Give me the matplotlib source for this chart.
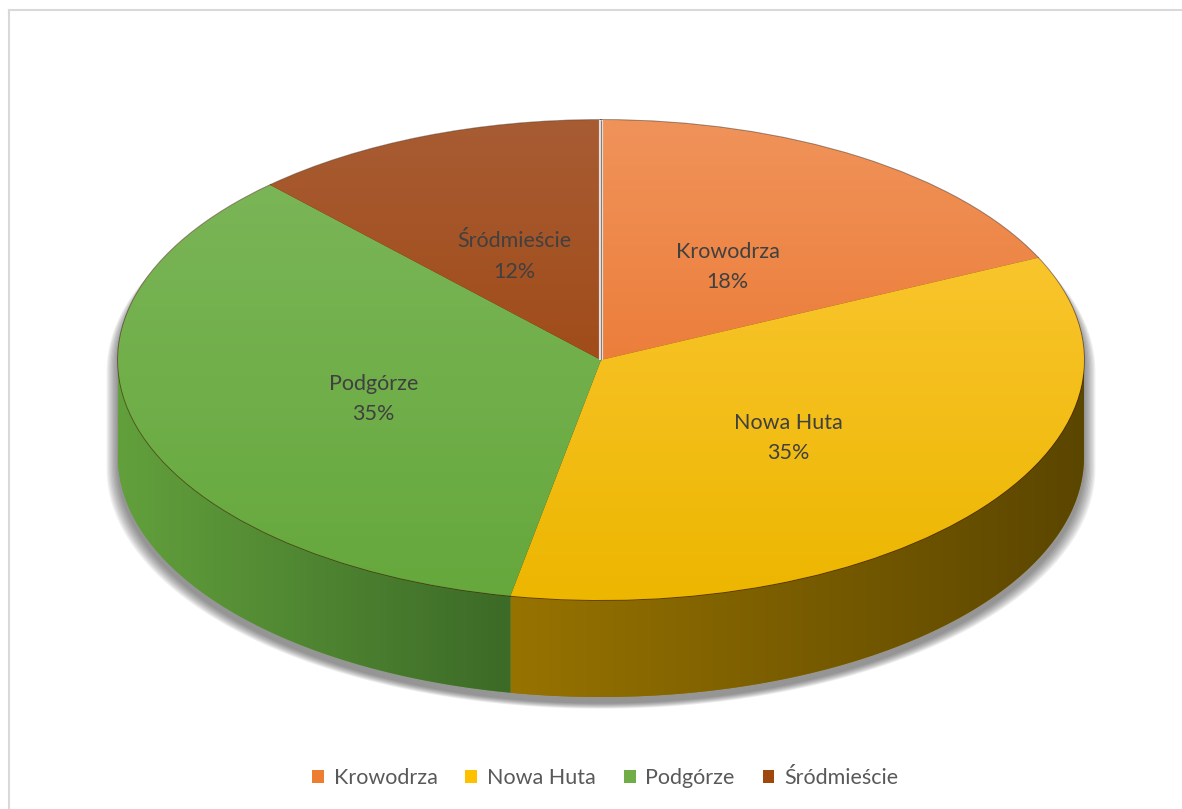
import numpy as np
import matplotlib
matplotlib.use('Agg')
import matplotlib.pyplot as plt
from matplotlib.patches import Polygon, Patch
from matplotlib.colors import to_rgb

# data
districts = ['Krowodrza', 'Nowa Huta', 'Podgórze', 'Śródmieście']
shares = [18, 35, 35, 12]
top_light = ['#F0935A', '#FDCB3E', '#7DB75B', '#A85C33']
top_dark = ['#E8691C', '#EDB600', '#66A83C', '#9A3C00']
side_left = ['#B5561A', '#977300', '#62A03C', '#7A3000']
side_right = ['#9C4510', '#5B4600', '#3C6A27', '#602500']
legend_colors = ['#ED7D31', '#FFC000', '#70AD47', '#9E480E']

plt.rcParams['font.family'] = ['Lato', 'DejaVu Sans']

W, H = 1182, 809
CX, CY, RX, RY, DEPTH = 601, 360, 483, 240, 97
d = DEPTH / RY

fig = plt.figure(figsize=(W / 100, H / 100), dpi=100)
ax = fig.add_axes([0, 0, 1, 1])

wedges, texts, autotexts = ax.pie(shares, startangle=90, counterclock=False,
                                  autopct='%d%%', pctdistance=0.49,
                                  wedgeprops=dict(linewidth=1.3, edgecolor=(0.25, 0.1, 0.0, 0.55)))

def grad_img(c1, c2, vertical=True, n=256):
    a = np.array(to_rgb(c1))
    b = np.array(to_rgb(c2))
    t = np.linspace(0, 1, n)[:, None]
    g = a * (1 - t) + b * t
    if vertical:
        return g[:, None, :]
    return g[None, :, :]

# soft shadow below the pie (only shows round the lower rim)
t = np.linspace(0, np.pi, 200)
t2 = np.linspace(np.pi, 2 * np.pi, 200)
sil = np.vstack([np.c_[np.cos(t), np.sin(t)], np.c_[np.cos(t2), np.sin(t2) - d]])
for i in range(9):
    e = 1 + i * 1.3
    pts = np.c_[sil[:, 0] * (RX + e) / RX, sil[:, 1] - (6 + e * 0.5) / RY]
    ax.add_patch(Polygon(pts, closed=True, facecolor='#3A3A3A', edgecolor='none',
                         alpha=0.08, zorder=0))

# sides (front half of the rim)
bounds = 90 - np.cumsum([0] + shares) * 3.6
for i in range(len(shares)):
    a0, a1 = bounds[i + 1], bounds[i]
    lo, hi = max(a0, -180), min(a1, 0)
    if hi <= lo:
        continue
    tt = np.radians(np.linspace(lo, hi, 120))
    topv = np.c_[np.cos(tt), np.sin(tt)]
    botv = np.c_[np.cos(tt), np.sin(tt) - d][::-1]
    poly = Polygon(np.vstack([topv, botv]), closed=True, facecolor=side_left[i],
                   edgecolor='none', zorder=1)
    ax.add_patch(poly)
    x0, x1 = np.cos(tt).min(), np.cos(tt).max()
    im = ax.imshow(grad_img(side_left[i], side_right[i], vertical=False),
                   extent=(x0, x1, -1 - d, 1), aspect='auto', zorder=1.5,
                   interpolation='bilinear')
    im.set_clip_path(poly)

# top faces with vertical gradient
for i, w in enumerate(wedges):
    w.set_facecolor(top_dark[i])
    w.set_zorder(2)
    im = ax.imshow(grad_img(top_light[i], top_dark[i]), extent=(-1, 1, -1, 1),
                   aspect='auto', zorder=2.5, interpolation='bilinear')
    im.set_clip_path(w)

# light seam at the 12 o'clock cut
ax.plot([0, 0], [0, 1], color='#E8E0DA', lw=3, zorder=3, solid_capstyle='butt')
ax.plot([0, 0], [0, 1], color='#7F7F7F', lw=0.8, zorder=3.1, solid_capstyle='butt')

for i, txt in enumerate(autotexts):
    x, y = txt.get_position()
    txt.set_position((x, y - 0.025))
    txt.set_text(f'{districts[i]}\n{shares[i]}%')
    txt.set_color('#404040')
    txt.set_fontsize(15.5)
    txt.set_ha('center')
    txt.set_va('center')
    txt.set_linespacing(1.65)
    txt.set_zorder(5)

ax.set_aspect('auto')
ax.set_xlim(-CX / RX, (W - CX) / RX)
ax.set_ylim((CY - H) / RY, CY / RY)
ax.axis('off')

# chart area border (only top and left visible)
fig.add_artist(plt.Line2D([8.5 / W, 8.5 / W], [0, 1 - 9.5 / H], color='#D9D9D9', lw=1.5))
fig.add_artist(plt.Line2D([8.5 / W, 1], [1 - 9.5 / H, 1 - 9.5 / H], color='#D9D9D9', lw=1.5))

handles = [Patch(facecolor=c, edgecolor='none') for c in legend_colors]
fig.legend(handles, districts, loc='center', bbox_to_anchor=(0.512, 1 - 778 / H), ncol=4,
           frameon=False, fontsize=15.5, labelcolor='#595959', handlelength=0.55,
           handleheight=0.55, handletextpad=0.45, columnspacing=1.3)

fig.savefig('out.png', dpi=100, facecolor='white')
